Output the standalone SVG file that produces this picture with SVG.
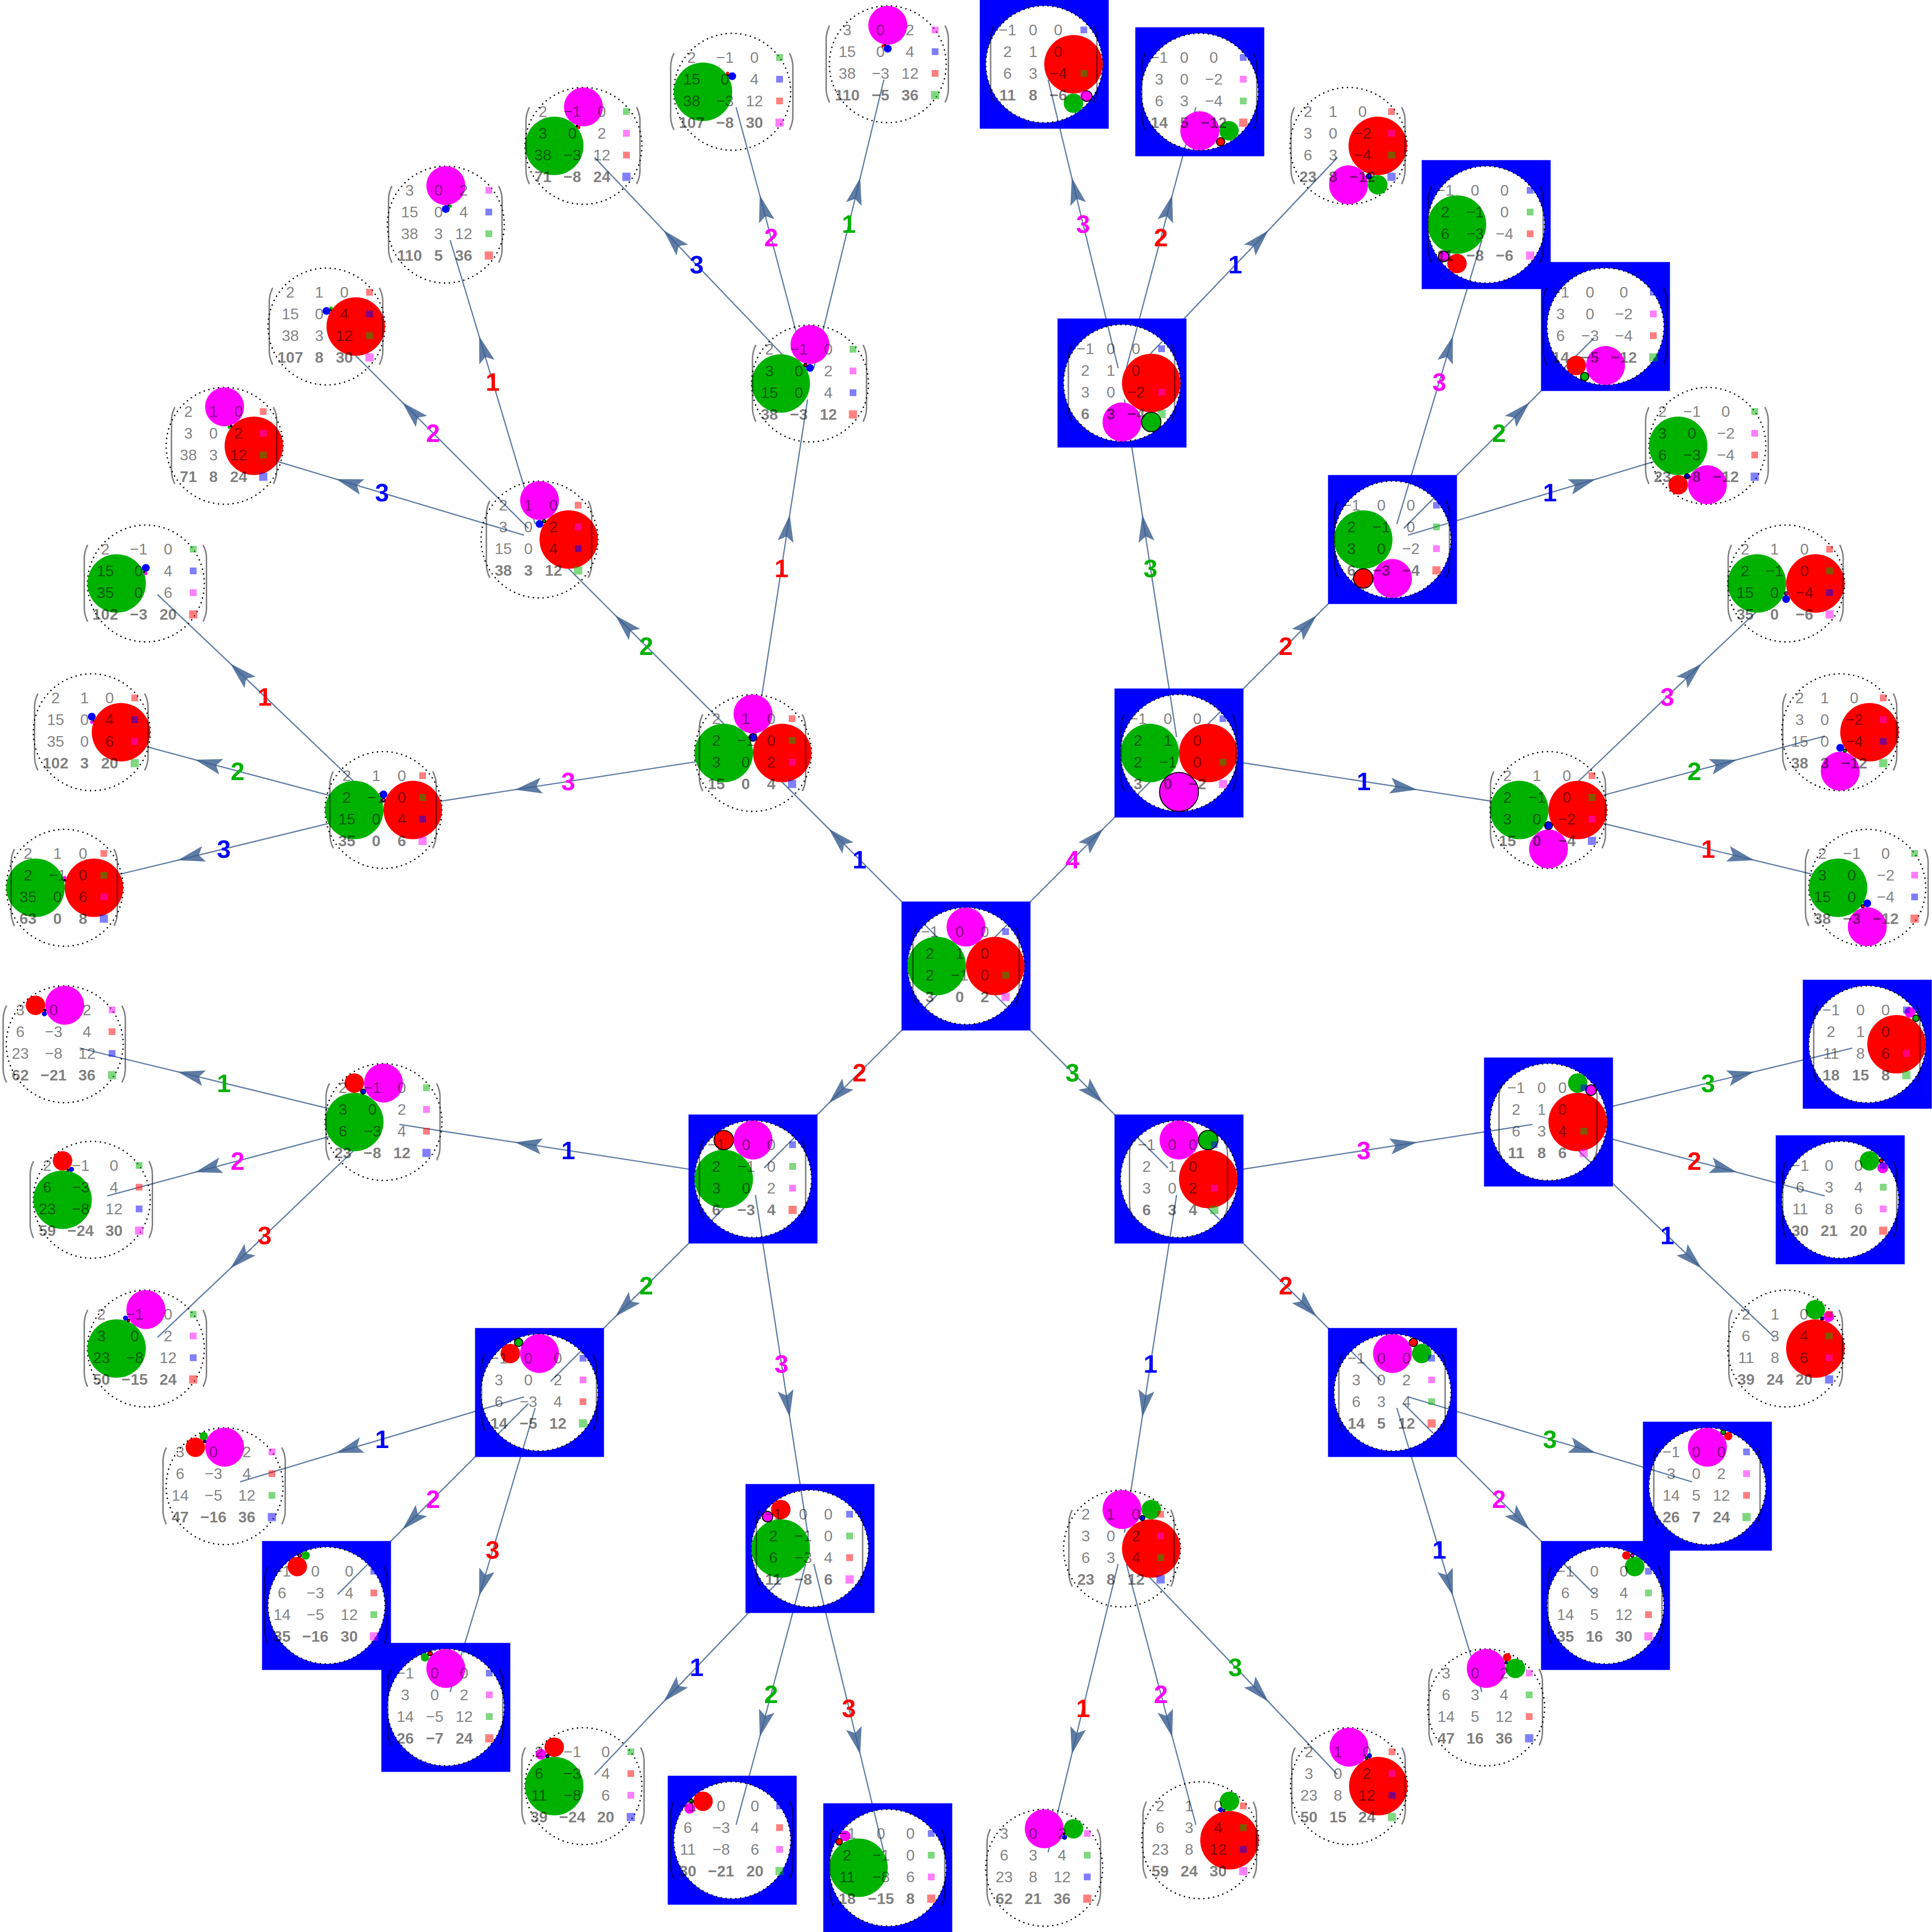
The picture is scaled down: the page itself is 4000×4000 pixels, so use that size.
<svg xmlns="http://www.w3.org/2000/svg" width="4000" height="4000" viewBox="0 0 4000 4000">
<style>
text{font-family:"Liberation Sans",Arial,sans-serif;font-size:32px;text-anchor:middle;fill:#000;fill-opacity:.5}
.b{font-weight:bold}
text.lab{font-size:52px;font-weight:bold;fill-opacity:1;dominant-baseline:central}
text.lr{fill:#f00}text.lg{fill:#00b200}text.lb{fill:#00f}text.lm{fill:#f0f}
.r{fill:#f00}.g{fill:#00b200}.u{fill:#00f}.m{fill:#f0f}
.k{stroke:#000;stroke-width:2}
.q{fill-opacity:.5}
.e{fill:none;stroke:#3a5f90;stroke-opacity:.82;stroke-width:2.6;marker-mid:url(#ah)}
.p{fill:none;stroke:#000;stroke-opacity:.5;stroke-width:3}
</style>
<defs>
<marker id="ah" markerUnits="userSpaceOnUse" orient="auto" markerWidth="60" markerHeight="36" viewBox="0 0 60 36" refX="56" refY="18"><path d="M56 18L0 1.500L11 18L0 34.500Z" fill="#3a5f90" fill-opacity=".82"/></marker>
<path id="ring" fill="#00f" fill-rule="evenodd" d="M-133.500-133.500H133.500V133.500H-133.500ZM-121 0A121 121 0 1 0 121 0A121 121 0 1 0-121 0Z"/>
<circle id="dots" r="121" fill="none" stroke="#000" stroke-width="3.200" stroke-linecap="round" stroke-dasharray="0 10.137"/>
<path id="pl" class="p" d="M7-80Q0-66 0-52V51Q0 65 7 79"/>
<path id="pr" class="p" d="M-7-80Q0-66 0-52V51Q0 65-7 79"/>
<rect id="sr" class="r q" x="-7" y="-7" width="14" height="14"/>
<rect id="sg" class="g q" x="-7" y="-7" width="14" height="14"/>
<rect id="sb" class="u q" x="-7" y="-7" width="14" height="14"/>
<rect id="sm" class="m q" x="-7" y="-7" width="14" height="14"/>
<rect id="Br" class="r q" x="-8.500" y="-8.500" width="17" height="17"/>
<rect id="Bg" class="g q" x="-8.500" y="-8.500" width="17" height="17"/>
<rect id="Bb" class="u q" x="-8.500" y="-8.500" width="17" height="17"/>
<rect id="Bm" class="m q" x="-8.500" y="-8.500" width="17" height="17"/>
<circle id="ca" class="r" cx="60.500" r="60.500"/>
<circle id="cd" class="g" cx="-60.500" r="60.500"/>
<circle id="cu" class="m" cy="-80.700" r="40.330"/>
<circle id="cv" class="m" cy="80.700" r="40.330"/>
<circle id="ce" class="u" cy="-32.300" r="8.070"/>
<circle id="cf" class="u" cy="32.300" r="8.070"/>
<circle id="g6" class="g" cx="60.500" cy="-80.700" r="20.170"/>
<circle id="g7" class="g" cx="60.500" cy="80.700" r="20.170"/>
<circle id="r6" class="r" cx="-60.500" cy="-80.700" r="20.170"/>
<circle id="r7" class="r" cx="-60.500" cy="80.700" r="20.170"/>
<circle id="m8" class="m" cx="88" cy="-66" r="11"/>
<circle id="m9" class="m" cx="-88" cy="-66" r="11"/>
</defs>
<rect width="4000" height="4000" fill="#fff"/>
<g id="connectors" transform="translate(2000 2000)">
<path class="e" d="M-23-23L-284-284L-418-418"/>
<path class="e" d="M-436-474L-365-934L-328-1173"/>
<path class="e" d="M-464-464L-726-726L-860-860"/>
<path class="e" d="M-474-436L-934-365L-1173-328"/>
<path class="e" d="M-315-1238L-219-1632L-170-1835"/>
<path class="e" d="M-332-1238L-427-1596L-476-1778"/>
<path class="e" d="M-346-1230L-626-1523L-769-1674"/>
<path class="e" d="M-892-915L-1008-1304L-1068-1503"/>
<path class="e" d="M-906-906L-1167-1167L-1301-1301"/>
<path class="e" d="M-915-892L-1304-1008L-1503-1068"/>
<path class="e" d="M-1230-346L-1523-626L-1674-769"/>
<path class="e" d="M-1238-332L-1596-427L-1778-476"/>
<path class="e" d="M-1238-315L-1632-219L-1835-170"/>
<path class="e" d="M23-23L284-284L418-418"/>
<path class="e" d="M436-474L365-934L328-1173"/>
<path class="e" d="M464-464L726-726L860-860"/>
<path class="e" d="M474-436L934-365L1173-328"/>
<path class="e" d="M315-1238L219-1632L170-1835"/>
<path class="e" d="M332-1238L427-1596L476-1778"/>
<path class="e" d="M346-1230L626-1523L769-1674"/>
<path class="e" d="M892-915L1008-1304L1068-1503"/>
<path class="e" d="M906-906L1167-1167L1301-1301"/>
<path class="e" d="M915-892L1304-1008L1503-1068"/>
<path class="e" d="M1230-346L1523-626L1674-769"/>
<path class="e" d="M1238-332L1596-427L1778-476"/>
<path class="e" d="M1238-315L1632-219L1835-170"/>
<path class="e" d="M23 23L284 284L418 418"/>
<path class="e" d="M436 474L365 934L328 1173"/>
<path class="e" d="M464 464L726 726L860 860"/>
<path class="e" d="M474 436L934 365L1173 328"/>
<path class="e" d="M315 1238L219 1632L170 1835"/>
<path class="e" d="M332 1238L427 1596L476 1778"/>
<path class="e" d="M346 1230L626 1523L769 1674"/>
<path class="e" d="M892 915L1008 1304L1068 1503"/>
<path class="e" d="M906 906L1167 1167L1301 1301"/>
<path class="e" d="M915 892L1304 1008L1503 1068"/>
<path class="e" d="M1230 346L1523 626L1674 769"/>
<path class="e" d="M1238 332L1596 427L1778 476"/>
<path class="e" d="M1238 315L1632 219L1835 170"/>
<path class="e" d="M-23 23L-284 284L-418 418"/>
<path class="e" d="M-436 474L-365 934L-328 1173"/>
<path class="e" d="M-464 464L-726 726L-860 860"/>
<path class="e" d="M-474 436L-934 365L-1173 328"/>
<path class="e" d="M-315 1238L-219 1632L-170 1835"/>
<path class="e" d="M-332 1238L-427 1596L-476 1778"/>
<path class="e" d="M-346 1230L-626 1523L-769 1674"/>
<path class="e" d="M-892 915L-1008 1304L-1068 1503"/>
<path class="e" d="M-906 906L-1167 1167L-1301 1301"/>
<path class="e" d="M-915 892L-1304 1008L-1503 1068"/>
<path class="e" d="M-1230 346L-1523 626L-1674 769"/>
<path class="e" d="M-1238 332L-1596 427L-1778 476"/>
<path class="e" d="M-1238 315L-1632 219L-1835 170"/>
<text class="lab lb" x="-220.500" y="-220.500">1</text>
<text class="lab lr" x="-382" y="-823.500">1</text>
<text class="lab lg" x="-662" y="-662">2</text>
<text class="lab lm" x="-823.500" y="-382">3</text>
<text class="lab lg" x="-242.500" y="-1536.500">1</text>
<text class="lab lm" x="-403.500" y="-1508">2</text>
<text class="lab lb" x="-557.500" y="-1452">3</text>
<text class="lab lr" x="-980" y="-1209">1</text>
<text class="lab lm" x="-1103.500" y="-1103.500">2</text>
<text class="lab lb" x="-1209" y="-980">3</text>
<text class="lab lr" x="-1452" y="-557.500">1</text>
<text class="lab lg" x="-1508" y="-403.500">2</text>
<text class="lab lb" x="-1536.500" y="-242.500">3</text>
<text class="lab lm" x="220.500" y="-220.500">4</text>
<text class="lab lg" x="382" y="-823.500">3</text>
<text class="lab lr" x="662" y="-662">2</text>
<text class="lab lb" x="823.500" y="-382">1</text>
<text class="lab lm" x="242.500" y="-1536.500">3</text>
<text class="lab lr" x="403.500" y="-1508">2</text>
<text class="lab lb" x="557.500" y="-1452">1</text>
<text class="lab lm" x="980" y="-1209">3</text>
<text class="lab lg" x="1103.500" y="-1103.500">2</text>
<text class="lab lb" x="1209" y="-980">1</text>
<text class="lab lm" x="1452" y="-557.500">3</text>
<text class="lab lg" x="1508" y="-403.500">2</text>
<text class="lab lr" x="1536.500" y="-242.500">1</text>
<text class="lab lg" x="220.500" y="220.500">3</text>
<text class="lab lb" x="382" y="823.500">1</text>
<text class="lab lr" x="662" y="662">2</text>
<text class="lab lm" x="823.500" y="382">3</text>
<text class="lab lr" x="242.500" y="1536.500">1</text>
<text class="lab lm" x="403.500" y="1508">2</text>
<text class="lab lg" x="557.500" y="1452">3</text>
<text class="lab lb" x="980" y="1209">1</text>
<text class="lab lm" x="1103.500" y="1103.500">2</text>
<text class="lab lg" x="1209" y="980">3</text>
<text class="lab lb" x="1452" y="557.500">1</text>
<text class="lab lr" x="1508" y="403.500">2</text>
<text class="lab lg" x="1536.500" y="242.500">3</text>
<text class="lab lr" x="-220.500" y="220.500">2</text>
<text class="lab lm" x="-382" y="823.500">3</text>
<text class="lab lg" x="-662" y="662">2</text>
<text class="lab lb" x="-823.500" y="382">1</text>
<text class="lab lr" x="-242.500" y="1536.500">3</text>
<text class="lab lg" x="-403.500" y="1508">2</text>
<text class="lab lb" x="-557.500" y="1452">1</text>
<text class="lab lr" x="-980" y="1209">3</text>
<text class="lab lm" x="-1103.500" y="1103.500">2</text>
<text class="lab lb" x="-1209" y="980">1</text>
<text class="lab lr" x="-1452" y="557.500">3</text>
<text class="lab lm" x="-1508" y="403.500">2</text>
<text class="lab lg" x="-1536.500" y="242.500">1</text>
</g>
<g id="n0" transform="translate(2000 2000)"><use href="#ring"/><use href="#dots"/><use href="#ca"/><use href="#cd"/><use href="#cu"/>
<text y="-60"><tspan x="-75">−1</tspan><tspan x="-13">0</tspan><tspan x="39">0</tspan></text><text y="-15"><tspan x="-75">2</tspan><tspan x="-13">1</tspan><tspan x="39">0</tspan></text><text y="30"><tspan x="-75">2</tspan><tspan x="-13">−1</tspan><tspan x="39">0</tspan></text><text class="b" y="75"><tspan x="-75">3</tspan><tspan x="-13">0</tspan><tspan x="39">2</tspan></text>
<use href="#pl" x="-110"/><use href="#pr" x="110"/><use href="#sb" x="82" y="-71"/><use href="#sr" x="82" y="-26"/><use href="#sg" x="82" y="19"/><use href="#Bm" x="82" y="64"/></g>
<g id="nA" transform="translate(1559 1559)"><use href="#dots"/><use href="#ca"/><use href="#cd"/><use href="#cu"/><circle class="u k" cy="-32.300" r="8.070"/>
<text y="-60"><tspan x="-76">2</tspan><tspan x="-15">1</tspan><tspan x="38">0</tspan></text><text y="-15"><tspan x="-76">2</tspan><tspan x="-15">−1</tspan><tspan x="38">0</tspan></text><text y="30"><tspan x="-76">3</tspan><tspan x="-15">0</tspan><tspan x="38">2</tspan></text><text class="b" y="75"><tspan x="-76">15</tspan><tspan x="-15">0</tspan><tspan x="38">4</tspan></text>
<use href="#pl" x="-111"/><use href="#pr" x="109"/><use href="#sr" x="81" y="-71"/><use href="#sg" x="81" y="-26"/><use href="#sm" x="81" y="19"/><use href="#Bb" x="81" y="64"/></g>
<g id="nA1" transform="translate(1677 794)"><use href="#dots"/><use href="#cd"/><use href="#cu"/><use href="#ce"/><circle class="r k" cx="-9.550" cy="-38.200" r="3.180"/>
<text y="-60"><tspan x="-84">2</tspan><tspan x="-23">−1</tspan><tspan x="38">0</tspan></text><text y="-15"><tspan x="-84">3</tspan><tspan x="-23">0</tspan><tspan x="38">2</tspan></text><text y="30"><tspan x="-84">15</tspan><tspan x="-23">0</tspan><tspan x="38">4</tspan></text><text class="b" y="75"><tspan x="-84">38</tspan><tspan x="-23">−3</tspan><tspan x="38">12</tspan></text>
<use href="#pl" x="-119"/><use href="#pr" x="117"/><use href="#sg" x="89" y="-71"/><use href="#sm" x="89" y="-26"/><use href="#sb" x="89" y="19"/><use href="#Br" x="89" y="64"/></g>
<g id="nA2" transform="translate(1117 1117)"><use href="#dots"/><use href="#ca"/><use href="#cu"/><use href="#ce"/><circle class="g k" cx="9.550" cy="-38.200" r="3.180"/>
<text y="-60"><tspan x="-75">2</tspan><tspan x="-23">1</tspan><tspan x="29">0</tspan></text><text y="-15"><tspan x="-75">3</tspan><tspan x="-23">0</tspan><tspan x="29">2</tspan></text><text y="30"><tspan x="-75">15</tspan><tspan x="-23">0</tspan><tspan x="29">4</tspan></text><text class="b" y="75"><tspan x="-75">38</tspan><tspan x="-23">3</tspan><tspan x="29">12</tspan></text>
<use href="#pl" x="-110"/><use href="#pr" x="108"/><use href="#sr" x="80" y="-71"/><use href="#sm" x="80" y="-26"/><use href="#sb" x="80" y="19"/><use href="#Bg" x="80" y="64"/></g>
<g id="nA3" transform="translate(794 1677)"><use href="#dots"/><use href="#ca"/><use href="#cd"/><use href="#ce"/><circle class="m k" cy="-20.740" r="3.460"/>
<text y="-60"><tspan x="-76">2</tspan><tspan x="-15">1</tspan><tspan x="38">0</tspan></text><text y="-15"><tspan x="-76">2</tspan><tspan x="-15">−1</tspan><tspan x="38">0</tspan></text><text y="30"><tspan x="-76">15</tspan><tspan x="-15">0</tspan><tspan x="38">4</tspan></text><text class="b" y="75"><tspan x="-76">35</tspan><tspan x="-15">0</tspan><tspan x="38">6</tspan></text>
<use href="#pl" x="-111"/><use href="#pr" x="109"/><use href="#sr" x="81" y="-71"/><use href="#sg" x="81" y="-26"/><use href="#sb" x="81" y="19"/><use href="#Bm" x="81" y="64"/></g>
<g id="nA11" transform="translate(1838 133)"><use href="#dots"/><use href="#cu"/><use href="#ce"/><circle class="r" cx="-9.550" cy="-38.200" r="3.180"/><circle class="g k" cx="-5.500" cy="-39.600" r="1.100"/>
<text y="-60"><tspan x="-84">3</tspan><tspan x="-15">0</tspan><tspan x="46">2</tspan></text><text y="-15"><tspan x="-84">15</tspan><tspan x="-15">0</tspan><tspan x="46">4</tspan></text><text y="30"><tspan x="-84">38</tspan><tspan x="-15">−3</tspan><tspan x="46">12</tspan></text><text class="b" y="75"><tspan x="-84">110</tspan><tspan x="-15">−5</tspan><tspan x="46">36</tspan></text>
<use href="#pl" x="-127.500"/><use href="#pr" x="125.500"/><use href="#sm" x="98" y="-71"/><use href="#sb" x="98" y="-26"/><use href="#sr" x="98" y="19"/><use href="#Bg" x="98" y="64"/></g>
<g id="nA12" transform="translate(1516 190)"><use href="#dots"/><use href="#cd"/><use href="#ce"/><circle class="r" cx="-9.550" cy="-38.200" r="3.180"/><circle class="m k" cx="-9.050" cy="-33.900" r="1.130"/>
<text y="-60"><tspan x="-84">2</tspan><tspan x="-15">−1</tspan><tspan x="46">0</tspan></text><text y="-15"><tspan x="-84">15</tspan><tspan x="-15">0</tspan><tspan x="46">4</tspan></text><text y="30"><tspan x="-84">38</tspan><tspan x="-15">−3</tspan><tspan x="46">12</tspan></text><text class="b" y="75"><tspan x="-84">107</tspan><tspan x="-15">−8</tspan><tspan x="46">30</tspan></text>
<use href="#pl" x="-127.500"/><use href="#pr" x="125.500"/><use href="#sg" x="98" y="-71"/><use href="#sb" x="98" y="-26"/><use href="#sr" x="98" y="19"/><use href="#Bm" x="98" y="64"/></g>
<g id="nA13" transform="translate(1208 302)"><use href="#dots"/><use href="#cd"/><use href="#cu"/><circle class="r" cx="-9.550" cy="-38.200" r="3.180"/><circle class="u k" cx="-13.600" cy="-40.900" r="1.700"/>
<text y="-60"><tspan x="-84">2</tspan><tspan x="-23">−1</tspan><tspan x="38">0</tspan></text><text y="-15"><tspan x="-84">3</tspan><tspan x="-23">0</tspan><tspan x="38">2</tspan></text><text y="30"><tspan x="-84">38</tspan><tspan x="-23">−3</tspan><tspan x="38">12</tspan></text><text class="b" y="75"><tspan x="-84">71</tspan><tspan x="-23">−8</tspan><tspan x="38">24</tspan></text>
<use href="#pl" x="-119"/><use href="#pr" x="117"/><use href="#sg" x="89" y="-71"/><use href="#sm" x="89" y="-26"/><use href="#sr" x="89" y="19"/><use href="#Bb" x="89" y="64"/></g>
<g id="nA21" transform="translate(923 465)"><use href="#dots"/><use href="#cu"/><use href="#ce"/><circle class="g" cx="9.550" cy="-38.200" r="3.180"/><circle class="r k" cx="5.500" cy="-39.600" r="1.100"/>
<text y="-60"><tspan x="-75">3</tspan><tspan x="-15">0</tspan><tspan x="37">2</tspan></text><text y="-15"><tspan x="-75">15</tspan><tspan x="-15">0</tspan><tspan x="37">4</tspan></text><text y="30"><tspan x="-75">38</tspan><tspan x="-15">3</tspan><tspan x="37">12</tspan></text><text class="b" y="75"><tspan x="-75">110</tspan><tspan x="-15">5</tspan><tspan x="37">36</tspan></text>
<use href="#pl" x="-118.500"/><use href="#pr" x="116.500"/><use href="#sm" x="89" y="-71"/><use href="#sb" x="89" y="-26"/><use href="#sg" x="89" y="19"/><use href="#Br" x="89" y="64"/></g>
<g id="nA22" transform="translate(676 676)"><use href="#dots"/><use href="#ca"/><use href="#ce"/><circle class="g" cx="9.550" cy="-38.200" r="3.180"/><circle class="m k" cx="9.050" cy="-33.900" r="1.130"/>
<text y="-60"><tspan x="-75">2</tspan><tspan x="-15">1</tspan><tspan x="37">0</tspan></text><text y="-15"><tspan x="-75">15</tspan><tspan x="-15">0</tspan><tspan x="37">4</tspan></text><text y="30"><tspan x="-75">38</tspan><tspan x="-15">3</tspan><tspan x="37">12</tspan></text><text class="b" y="75"><tspan x="-75">107</tspan><tspan x="-15">8</tspan><tspan x="37">30</tspan></text>
<use href="#pl" x="-118.500"/><use href="#pr" x="116.500"/><use href="#sr" x="89" y="-71"/><use href="#sb" x="89" y="-26"/><use href="#sg" x="89" y="19"/><use href="#Bm" x="89" y="64"/></g>
<g id="nA23" transform="translate(465 923)"><use href="#dots"/><use href="#ca"/><use href="#cu"/><circle class="g" cx="9.550" cy="-38.200" r="3.180"/><circle class="u k" cx="13.600" cy="-40.900" r="1.700"/>
<text y="-60"><tspan x="-75">2</tspan><tspan x="-23">1</tspan><tspan x="29">0</tspan></text><text y="-15"><tspan x="-75">3</tspan><tspan x="-23">0</tspan><tspan x="29">2</tspan></text><text y="30"><tspan x="-75">38</tspan><tspan x="-23">3</tspan><tspan x="29">12</tspan></text><text class="b" y="75"><tspan x="-75">71</tspan><tspan x="-23">8</tspan><tspan x="29">24</tspan></text>
<use href="#pl" x="-110"/><use href="#pr" x="108"/><use href="#sr" x="80" y="-71"/><use href="#sm" x="80" y="-26"/><use href="#sg" x="80" y="19"/><use href="#Bb" x="80" y="64"/></g>
<g id="nA31" transform="translate(302 1208)"><use href="#dots"/><use href="#cd"/><use href="#ce"/><circle class="m" cy="-20.740" r="3.460"/><circle class="r k" cx="-3.560" cy="-23.700" r="1.190"/>
<text y="-60"><tspan x="-84">2</tspan><tspan x="-15">−1</tspan><tspan x="46">0</tspan></text><text y="-15"><tspan x="-84">15</tspan><tspan x="-15">0</tspan><tspan x="46">4</tspan></text><text y="30"><tspan x="-84">35</tspan><tspan x="-15">0</tspan><tspan x="46">6</tspan></text><text class="b" y="75"><tspan x="-84">102</tspan><tspan x="-15">−3</tspan><tspan x="46">20</tspan></text>
<use href="#pl" x="-127.500"/><use href="#pr" x="125.500"/><use href="#sg" x="98" y="-71"/><use href="#sb" x="98" y="-26"/><use href="#sm" x="98" y="19"/><use href="#Br" x="98" y="64"/></g>
<g id="nA32" transform="translate(190 1516)"><use href="#dots"/><use href="#ca"/><use href="#ce"/><circle class="m" cy="-20.740" r="3.460"/><circle class="g k" cx="3.560" cy="-23.700" r="1.190"/>
<text y="-60"><tspan x="-75">2</tspan><tspan x="-15">1</tspan><tspan x="37">0</tspan></text><text y="-15"><tspan x="-75">15</tspan><tspan x="-15">0</tspan><tspan x="37">4</tspan></text><text y="30"><tspan x="-75">35</tspan><tspan x="-15">0</tspan><tspan x="37">6</tspan></text><text class="b" y="75"><tspan x="-75">102</tspan><tspan x="-15">3</tspan><tspan x="37">20</tspan></text>
<use href="#pl" x="-118.500"/><use href="#pr" x="116.500"/><use href="#sr" x="89" y="-71"/><use href="#sb" x="89" y="-26"/><use href="#sm" x="89" y="19"/><use href="#Bg" x="89" y="64"/></g>
<g id="nA33" transform="translate(134 1838)"><use href="#dots"/><use href="#ca"/><use href="#cd"/><circle class="m" cy="-20.740" r="3.460"/><circle class="u k" cy="-15.400" r="1.920"/>
<text y="-60"><tspan x="-76">2</tspan><tspan x="-15">1</tspan><tspan x="38">0</tspan></text><text y="-15"><tspan x="-76">2</tspan><tspan x="-15">−1</tspan><tspan x="38">0</tspan></text><text y="30"><tspan x="-76">35</tspan><tspan x="-15">0</tspan><tspan x="38">6</tspan></text><text class="b" y="75"><tspan x="-76">63</tspan><tspan x="-15">0</tspan><tspan x="38">8</tspan></text>
<use href="#pl" x="-111"/><use href="#pr" x="109"/><use href="#sr" x="81" y="-71"/><use href="#sg" x="81" y="-26"/><use href="#sm" x="81" y="19"/><use href="#Bb" x="81" y="64"/></g>
<g id="nD" transform="translate(2441 1559)"><use href="#ring"/><use href="#dots"/><use href="#ca"/><use href="#cd"/><circle class="m k" cy="80.700" r="40.330"/>
<text y="-60"><tspan x="-85">−1</tspan><tspan x="-23">0</tspan><tspan x="38">0</tspan></text><text y="-15"><tspan x="-85">2</tspan><tspan x="-23">1</tspan><tspan x="38">0</tspan></text><text y="30"><tspan x="-85">2</tspan><tspan x="-23">−1</tspan><tspan x="38">0</tspan></text><text class="b" y="75"><tspan x="-85">3</tspan><tspan x="-23">0</tspan><tspan x="38">−2</tspan></text>
<use href="#pl" x="-120"/><use href="#pr" x="118"/><use href="#sb" x="91" y="-71"/><use href="#sr" x="91" y="-26"/><use href="#sg" x="91" y="19"/><use href="#Bm" x="91" y="64"/></g>
<g id="nD3" transform="translate(2323 793)"><use href="#ring"/><use href="#dots"/><use href="#ca"/><use href="#cv"/><circle class="g k" cx="60.500" cy="80.700" r="20.170"/>
<text y="-60"><tspan x="-76">−1</tspan><tspan x="-23">0</tspan><tspan x="29">0</tspan></text><text y="-15"><tspan x="-76">2</tspan><tspan x="-23">1</tspan><tspan x="29">0</tspan></text><text y="30"><tspan x="-76">3</tspan><tspan x="-23">0</tspan><tspan x="29">−2</tspan></text><text class="b" y="75"><tspan x="-76">6</tspan><tspan x="-23">3</tspan><tspan x="29">−4</tspan></text>
<use href="#pl" x="-111"/><use href="#pr" x="109"/><use href="#sb" x="82" y="-71"/><use href="#sr" x="82" y="-26"/><use href="#sm" x="82" y="19"/><use href="#Bg" x="82" y="64"/></g>
<g id="nD2" transform="translate(2883 1117)"><use href="#ring"/><use href="#dots"/><use href="#cd"/><use href="#cv"/><circle class="r k" cx="-60.500" cy="80.700" r="20.170"/>
<text y="-60"><tspan x="-85">−1</tspan><tspan x="-23">0</tspan><tspan x="38">0</tspan></text><text y="-15"><tspan x="-85">2</tspan><tspan x="-23">−1</tspan><tspan x="38">0</tspan></text><text y="30"><tspan x="-85">3</tspan><tspan x="-23">0</tspan><tspan x="38">−2</tspan></text><text class="b" y="75"><tspan x="-85">6</tspan><tspan x="-23">−3</tspan><tspan x="38">−4</tspan></text>
<use href="#pl" x="-120"/><use href="#pr" x="118"/><use href="#sb" x="91" y="-71"/><use href="#sg" x="91" y="-26"/><use href="#sm" x="91" y="19"/><use href="#Br" x="91" y="64"/></g>
<g id="nD1" transform="translate(3206 1677)"><use href="#dots"/><use href="#ca"/><use href="#cd"/><use href="#cv"/><circle class="u k" cy="32.300" r="8.070"/>
<text y="-60"><tspan x="-85">2</tspan><tspan x="-24">1</tspan><tspan x="38">0</tspan></text><text y="-15"><tspan x="-85">2</tspan><tspan x="-24">−1</tspan><tspan x="38">0</tspan></text><text y="30"><tspan x="-85">3</tspan><tspan x="-24">0</tspan><tspan x="38">−2</tspan></text><text class="b" y="75"><tspan x="-85">15</tspan><tspan x="-24">0</tspan><tspan x="38">−4</tspan></text>
<use href="#pl" x="-120"/><use href="#pr" x="118"/><use href="#sr" x="90" y="-71"/><use href="#sg" x="90" y="-26"/><use href="#sm" x="90" y="19"/><use href="#Bb" x="90" y="64"/></g>
<g id="nD31" transform="translate(2162 133)"><use href="#ring"/><use href="#dots"/><use href="#ca"/><use href="#g7"/><circle class="m k" cx="88" cy="66" r="11"/>
<text y="-60"><tspan x="-76">−1</tspan><tspan x="-23">0</tspan><tspan x="29">0</tspan></text><text y="-15"><tspan x="-76">2</tspan><tspan x="-23">1</tspan><tspan x="29">0</tspan></text><text y="30"><tspan x="-76">6</tspan><tspan x="-23">3</tspan><tspan x="29">−4</tspan></text><text class="b" y="75"><tspan x="-76">11</tspan><tspan x="-23">8</tspan><tspan x="29">−6</tspan></text>
<use href="#pl" x="-111"/><use href="#pr" x="109"/><use href="#sb" x="82" y="-71"/><use href="#sr" x="82" y="-26"/><use href="#sg" x="82" y="19"/><use href="#Bm" x="82" y="64"/></g>
<g id="nD32" transform="translate(2484 190)"><use href="#ring"/><use href="#dots"/><use href="#cv"/><use href="#g7"/><circle class="r k" cx="43.200" cy="103.700" r="8.640"/>
<text y="-60"><tspan x="-84">−1</tspan><tspan x="-32">0</tspan><tspan x="29">0</tspan></text><text y="-15"><tspan x="-84">3</tspan><tspan x="-32">0</tspan><tspan x="29">−2</tspan></text><text y="30"><tspan x="-84">6</tspan><tspan x="-32">3</tspan><tspan x="29">−4</tspan></text><text class="b" y="75"><tspan x="-84">14</tspan><tspan x="-32">5</tspan><tspan x="29">−12</tspan></text>
<use href="#pl" x="-120"/><use href="#pr" x="118"/><use href="#sb" x="90" y="-71"/><use href="#sm" x="90" y="-26"/><use href="#sg" x="90" y="19"/><use href="#Br" x="90" y="64"/></g>
<g id="nD33" transform="translate(2792 302)"><use href="#dots"/><use href="#ca"/><use href="#cv"/><use href="#g7"/><circle class="u k" cx="42.100" cy="63.100" r="5.260"/>
<text y="-60"><tspan x="-84">2</tspan><tspan x="-32">1</tspan><tspan x="29">0</tspan></text><text y="-15"><tspan x="-84">3</tspan><tspan x="-32">0</tspan><tspan x="29">−2</tspan></text><text y="30"><tspan x="-84">6</tspan><tspan x="-32">3</tspan><tspan x="29">−4</tspan></text><text class="b" y="75"><tspan x="-84">23</tspan><tspan x="-32">8</tspan><tspan x="29">−12</tspan></text>
<use href="#pl" x="-119"/><use href="#pr" x="117"/><use href="#sr" x="89" y="-71"/><use href="#sm" x="89" y="-26"/><use href="#sg" x="89" y="19"/><use href="#Bb" x="89" y="64"/></g>
<g id="nD21" transform="translate(3077 465)"><use href="#ring"/><use href="#dots"/><use href="#cd"/><use href="#r7"/><circle class="m k" cx="-88" cy="66" r="11"/>
<text y="-60"><tspan x="-85">−1</tspan><tspan x="-23">0</tspan><tspan x="38">0</tspan></text><text y="-15"><tspan x="-85">2</tspan><tspan x="-23">−1</tspan><tspan x="38">0</tspan></text><text y="30"><tspan x="-85">6</tspan><tspan x="-23">−3</tspan><tspan x="38">−4</tspan></text><text class="b" y="75"><tspan x="-85">11</tspan><tspan x="-23">−8</tspan><tspan x="38">−6</tspan></text>
<use href="#pl" x="-120"/><use href="#pr" x="118"/><use href="#sb" x="91" y="-71"/><use href="#sg" x="91" y="-26"/><use href="#sr" x="91" y="19"/><use href="#Bm" x="91" y="64"/></g>
<g id="nD22" transform="translate(3324 676)"><use href="#ring"/><use href="#dots"/><use href="#cv"/><use href="#r7"/><circle class="g k" cx="-43.200" cy="103.700" r="8.640"/>
<text y="-60"><tspan x="-93">−1</tspan><tspan x="-32">0</tspan><tspan x="38">0</tspan></text><text y="-15"><tspan x="-93">3</tspan><tspan x="-32">0</tspan><tspan x="38">−2</tspan></text><text y="30"><tspan x="-93">6</tspan><tspan x="-32">−3</tspan><tspan x="38">−4</tspan></text><text class="b" y="75"><tspan x="-93">14</tspan><tspan x="-32">−5</tspan><tspan x="38">−12</tspan></text>
<use href="#pl" x="-129"/><use href="#pr" x="127"/><use href="#sb" x="99" y="-71"/><use href="#sm" x="99" y="-26"/><use href="#sr" x="99" y="19"/><use href="#Bg" x="99" y="64"/></g>
<g id="nD23" transform="translate(3535 923)"><use href="#dots"/><use href="#cd"/><use href="#cv"/><use href="#r7"/><circle class="u k" cx="-42.100" cy="63.100" r="5.260"/>
<text y="-60"><tspan x="-93">2</tspan><tspan x="-32">−1</tspan><tspan x="38">0</tspan></text><text y="-15"><tspan x="-93">3</tspan><tspan x="-32">0</tspan><tspan x="38">−2</tspan></text><text y="30"><tspan x="-93">6</tspan><tspan x="-32">−3</tspan><tspan x="38">−4</tspan></text><text class="b" y="75"><tspan x="-93">23</tspan><tspan x="-32">−8</tspan><tspan x="38">−12</tspan></text>
<use href="#pl" x="-128"/><use href="#pr" x="126"/><use href="#sg" x="98" y="-71"/><use href="#sm" x="98" y="-26"/><use href="#sr" x="98" y="19"/><use href="#Bb" x="98" y="64"/></g>
<g id="nD13" transform="translate(3698 1208)"><use href="#dots"/><use href="#ca"/><use href="#cd"/><use href="#cf"/><circle class="m k" cy="20.740" r="3.460"/>
<text y="-60"><tspan x="-85">2</tspan><tspan x="-24">1</tspan><tspan x="38">0</tspan></text><text y="-15"><tspan x="-85">2</tspan><tspan x="-24">−1</tspan><tspan x="38">0</tspan></text><text y="30"><tspan x="-85">15</tspan><tspan x="-24">0</tspan><tspan x="38">−4</tspan></text><text class="b" y="75"><tspan x="-85">35</tspan><tspan x="-24">0</tspan><tspan x="38">−6</tspan></text>
<use href="#pl" x="-120"/><use href="#pr" x="118"/><use href="#sr" x="90" y="-71"/><use href="#sg" x="90" y="-26"/><use href="#sb" x="90" y="19"/><use href="#Bm" x="90" y="64"/></g>
<g id="nD12" transform="translate(3810 1516)"><use href="#dots"/><use href="#ca"/><use href="#cv"/><use href="#cf"/><circle class="g k" cx="9.550" cy="38.200" r="3.180"/>
<text y="-60"><tspan x="-84">2</tspan><tspan x="-32">1</tspan><tspan x="29">0</tspan></text><text y="-15"><tspan x="-84">3</tspan><tspan x="-32">0</tspan><tspan x="29">−2</tspan></text><text y="30"><tspan x="-84">15</tspan><tspan x="-32">0</tspan><tspan x="29">−4</tspan></text><text class="b" y="75"><tspan x="-84">38</tspan><tspan x="-32">3</tspan><tspan x="29">−12</tspan></text>
<use href="#pl" x="-119"/><use href="#pr" x="117"/><use href="#sr" x="89" y="-71"/><use href="#sm" x="89" y="-26"/><use href="#sb" x="89" y="19"/><use href="#Bg" x="89" y="64"/></g>
<g id="nD11" transform="translate(3866 1838)"><use href="#dots"/><use href="#cd"/><use href="#cv"/><use href="#cf"/><circle class="r k" cx="-9.550" cy="38.200" r="3.180"/>
<text y="-60"><tspan x="-93">2</tspan><tspan x="-32">−1</tspan><tspan x="38">0</tspan></text><text y="-15"><tspan x="-93">3</tspan><tspan x="-32">0</tspan><tspan x="38">−2</tspan></text><text y="30"><tspan x="-93">15</tspan><tspan x="-32">0</tspan><tspan x="38">−4</tspan></text><text class="b" y="75"><tspan x="-93">38</tspan><tspan x="-32">−3</tspan><tspan x="38">−12</tspan></text>
<use href="#pl" x="-128"/><use href="#pr" x="126"/><use href="#sg" x="98" y="-71"/><use href="#sm" x="98" y="-26"/><use href="#sb" x="98" y="19"/><use href="#Br" x="98" y="64"/></g>
<g id="nC" transform="translate(2441 2441)"><use href="#ring"/><use href="#dots"/><use href="#ca"/><use href="#cu"/><circle class="g k" cx="60.500" cy="-80.700" r="20.170"/>
<text y="-60"><tspan x="-67">−1</tspan><tspan x="-14">0</tspan><tspan x="29">0</tspan></text><text y="-15"><tspan x="-67">2</tspan><tspan x="-14">1</tspan><tspan x="29">0</tspan></text><text y="30"><tspan x="-67">3</tspan><tspan x="-14">0</tspan><tspan x="29">2</tspan></text><text class="b" y="75"><tspan x="-67">6</tspan><tspan x="-14">3</tspan><tspan x="29">4</tspan></text>
<use href="#pl" x="-102.500"/><use href="#pr" x="100.500"/><use href="#sb" x="73" y="-71"/><use href="#sr" x="73" y="-26"/><use href="#sm" x="73" y="19"/><use href="#Bg" x="73" y="64"/></g>
<g id="nC1" transform="translate(2323 3206)"><use href="#dots"/><use href="#ca"/><use href="#cu"/><use href="#g6"/><circle class="u k" cx="42.100" cy="-63.100" r="5.260"/>
<text y="-60"><tspan x="-75">2</tspan><tspan x="-23">1</tspan><tspan x="29">0</tspan></text><text y="-15"><tspan x="-75">3</tspan><tspan x="-23">0</tspan><tspan x="29">2</tspan></text><text y="30"><tspan x="-75">6</tspan><tspan x="-23">3</tspan><tspan x="29">4</tspan></text><text class="b" y="75"><tspan x="-75">23</tspan><tspan x="-23">8</tspan><tspan x="29">12</tspan></text>
<use href="#pl" x="-110"/><use href="#pr" x="108"/><use href="#sr" x="80" y="-71"/><use href="#sm" x="80" y="-26"/><use href="#sg" x="80" y="19"/><use href="#Bb" x="80" y="64"/></g>
<g id="nC2" transform="translate(2883 2883)"><use href="#ring"/><use href="#dots"/><use href="#cu"/><use href="#g6"/><circle class="r k" cx="43.200" cy="-103.700" r="8.640"/>
<text y="-60"><tspan x="-75">−1</tspan><tspan x="-23">0</tspan><tspan x="29">0</tspan></text><text y="-15"><tspan x="-75">3</tspan><tspan x="-23">0</tspan><tspan x="29">2</tspan></text><text y="30"><tspan x="-75">6</tspan><tspan x="-23">3</tspan><tspan x="29">4</tspan></text><text class="b" y="75"><tspan x="-75">14</tspan><tspan x="-23">5</tspan><tspan x="29">12</tspan></text>
<use href="#pl" x="-111"/><use href="#pr" x="109"/><use href="#sb" x="81" y="-71"/><use href="#sm" x="81" y="-26"/><use href="#sg" x="81" y="19"/><use href="#Br" x="81" y="64"/></g>
<g id="nC3" transform="translate(3206 2323)"><use href="#ring"/><use href="#dots"/><use href="#ca"/><use href="#g6"/><circle class="m k" cx="88" cy="-66" r="11"/>
<text y="-60"><tspan x="-67">−1</tspan><tspan x="-14">0</tspan><tspan x="29">0</tspan></text><text y="-15"><tspan x="-67">2</tspan><tspan x="-14">1</tspan><tspan x="29">0</tspan></text><text y="30"><tspan x="-67">6</tspan><tspan x="-14">3</tspan><tspan x="29">4</tspan></text><text class="b" y="75"><tspan x="-67">11</tspan><tspan x="-14">8</tspan><tspan x="29">6</tspan></text>
<use href="#pl" x="-102.500"/><use href="#pr" x="100.500"/><use href="#sb" x="73" y="-71"/><use href="#sr" x="73" y="-26"/><use href="#sg" x="73" y="19"/><use href="#Bm" x="73" y="64"/></g>
<g id="nC11" transform="translate(2162 3867)"><use href="#dots"/><use href="#cu"/><use href="#g6"/><circle class="u" cx="42.100" cy="-63.100" r="5.260"/><circle class="r k" cx="41" cy="-70.300" r="1.950"/>
<text y="-60"><tspan x="-83">3</tspan><tspan x="-23">0</tspan><tspan x="37">2</tspan></text><text y="-15"><tspan x="-83">6</tspan><tspan x="-23">3</tspan><tspan x="37">4</tspan></text><text y="30"><tspan x="-83">23</tspan><tspan x="-23">8</tspan><tspan x="37">12</tspan></text><text class="b" y="75"><tspan x="-83">62</tspan><tspan x="-23">21</tspan><tspan x="37">36</tspan></text>
<use href="#pl" x="-118.500"/><use href="#pr" x="116.500"/><use href="#sm" x="89" y="-71"/><use href="#sg" x="89" y="-26"/><use href="#sb" x="89" y="19"/><use href="#Br" x="89" y="64"/></g>
<g id="nC12" transform="translate(2485 3810)"><use href="#dots"/><use href="#ca"/><use href="#g6"/><circle class="u" cx="42.100" cy="-63.100" r="5.260"/><circle class="m k" cx="49.200" cy="-61.500" r="2.050"/>
<text y="-60"><tspan x="-83">2</tspan><tspan x="-23">1</tspan><tspan x="37">0</tspan></text><text y="-15"><tspan x="-83">6</tspan><tspan x="-23">3</tspan><tspan x="37">4</tspan></text><text y="30"><tspan x="-83">23</tspan><tspan x="-23">8</tspan><tspan x="37">12</tspan></text><text class="b" y="75"><tspan x="-83">59</tspan><tspan x="-23">24</tspan><tspan x="37">30</tspan></text>
<use href="#pl" x="-118.500"/><use href="#pr" x="116.500"/><use href="#sr" x="89" y="-71"/><use href="#sg" x="89" y="-26"/><use href="#sb" x="89" y="19"/><use href="#Bm" x="89" y="64"/></g>
<g id="nC13" transform="translate(2793 3698)"><use href="#dots"/><use href="#ca"/><use href="#cu"/><circle class="u" cx="42.100" cy="-63.100" r="5.260"/><circle class="g k" cx="36.300" cy="-58.100" r="2.420"/>
<text y="-60"><tspan x="-83">2</tspan><tspan x="-23">1</tspan><tspan x="37">0</tspan></text><text y="-15"><tspan x="-83">3</tspan><tspan x="-23">0</tspan><tspan x="37">2</tspan></text><text y="30"><tspan x="-83">23</tspan><tspan x="-23">8</tspan><tspan x="37">12</tspan></text><text class="b" y="75"><tspan x="-83">50</tspan><tspan x="-23">15</tspan><tspan x="37">24</tspan></text>
<use href="#pl" x="-118.500"/><use href="#pr" x="116.500"/><use href="#sr" x="89" y="-71"/><use href="#sm" x="89" y="-26"/><use href="#sb" x="89" y="19"/><use href="#Bg" x="89" y="64"/></g>
<g id="nC21" transform="translate(3077 3535)"><use href="#dots"/><use href="#cu"/><use href="#g6"/><circle class="r" cx="43.200" cy="-103.700" r="8.640"/><circle class="u k" cx="41.200" cy="-92.700" r="2.570"/>
<text y="-60"><tspan x="-83">3</tspan><tspan x="-23">0</tspan><tspan x="37">2</tspan></text><text y="-15"><tspan x="-83">6</tspan><tspan x="-23">3</tspan><tspan x="37">4</tspan></text><text y="30"><tspan x="-83">14</tspan><tspan x="-23">5</tspan><tspan x="37">12</tspan></text><text class="b" y="75"><tspan x="-83">47</tspan><tspan x="-23">16</tspan><tspan x="37">36</tspan></text>
<use href="#pl" x="-118.500"/><use href="#pr" x="116.500"/><use href="#sm" x="89" y="-71"/><use href="#sg" x="89" y="-26"/><use href="#sr" x="89" y="19"/><use href="#Bb" x="89" y="64"/></g>
<g id="nC22" transform="translate(3324 3324)"><use href="#ring"/><use href="#dots"/><use href="#g6"/><circle class="r" cx="43.200" cy="-103.700" r="8.640"/><circle class="m k" cx="55.300" cy="-103.700" r="3.460"/>
<text y="-60"><tspan x="-83">−1</tspan><tspan x="-23">0</tspan><tspan x="38">0</tspan></text><text y="-15"><tspan x="-83">6</tspan><tspan x="-23">3</tspan><tspan x="38">4</tspan></text><text y="30"><tspan x="-83">14</tspan><tspan x="-23">5</tspan><tspan x="38">12</tspan></text><text class="b" y="75"><tspan x="-83">35</tspan><tspan x="-23">16</tspan><tspan x="38">30</tspan></text>
<use href="#pl" x="-119"/><use href="#pr" x="117"/><use href="#sb" x="89" y="-71"/><use href="#sg" x="89" y="-26"/><use href="#sr" x="89" y="19"/><use href="#Bm" x="89" y="64"/></g>
<g id="nC23" transform="translate(3535 3077)"><use href="#ring"/><use href="#dots"/><use href="#cu"/><circle class="r" cx="43.200" cy="-103.700" r="8.640"/><circle class="g k" cx="32.600" cy="-111.700" r="4.650"/>
<text y="-60"><tspan x="-75">−1</tspan><tspan x="-23">0</tspan><tspan x="29">0</tspan></text><text y="-15"><tspan x="-75">3</tspan><tspan x="-23">0</tspan><tspan x="29">2</tspan></text><text y="30"><tspan x="-75">14</tspan><tspan x="-23">5</tspan><tspan x="29">12</tspan></text><text class="b" y="75"><tspan x="-75">26</tspan><tspan x="-23">7</tspan><tspan x="29">24</tspan></text>
<use href="#pl" x="-111"/><use href="#pr" x="109"/><use href="#sb" x="81" y="-71"/><use href="#sm" x="81" y="-26"/><use href="#sr" x="81" y="19"/><use href="#Bg" x="81" y="64"/></g>
<g id="nC31" transform="translate(3698 2792)"><use href="#dots"/><use href="#ca"/><use href="#g6"/><use href="#m8"/><circle class="u k" cx="74.500" cy="-62.050" r="3.100"/>
<text y="-60"><tspan x="-83">2</tspan><tspan x="-23">1</tspan><tspan x="37">0</tspan></text><text y="-15"><tspan x="-83">6</tspan><tspan x="-23">3</tspan><tspan x="37">4</tspan></text><text y="30"><tspan x="-83">11</tspan><tspan x="-23">8</tspan><tspan x="37">6</tspan></text><text class="b" y="75"><tspan x="-83">39</tspan><tspan x="-23">24</tspan><tspan x="37">20</tspan></text>
<use href="#pl" x="-118.500"/><use href="#pr" x="116.500"/><use href="#sr" x="89" y="-71"/><use href="#sg" x="89" y="-26"/><use href="#sm" x="89" y="19"/><use href="#Bb" x="89" y="64"/></g>
<g id="nC32" transform="translate(3810 2484)"><use href="#ring"/><use href="#dots"/><use href="#g6"/><use href="#m8"/><circle class="r k" cx="84.700" cy="-80.700" r="4.030"/>
<text y="-60"><tspan x="-83">−1</tspan><tspan x="-23">0</tspan><tspan x="38">0</tspan></text><text y="-15"><tspan x="-83">6</tspan><tspan x="-23">3</tspan><tspan x="38">4</tspan></text><text y="30"><tspan x="-83">11</tspan><tspan x="-23">8</tspan><tspan x="38">6</tspan></text><text class="b" y="75"><tspan x="-83">30</tspan><tspan x="-23">21</tspan><tspan x="38">20</tspan></text>
<use href="#pl" x="-119"/><use href="#pr" x="117"/><use href="#sb" x="89" y="-71"/><use href="#sg" x="89" y="-26"/><use href="#sm" x="89" y="19"/><use href="#Br" x="89" y="64"/></g>
<g id="nC33" transform="translate(3866 2162)"><use href="#ring"/><use href="#dots"/><use href="#ca"/><use href="#m8"/><circle class="g k" cx="100.800" cy="-53.800" r="6.720"/>
<text y="-60"><tspan x="-75">−1</tspan><tspan x="-14">0</tspan><tspan x="38">0</tspan></text><text y="-15"><tspan x="-75">2</tspan><tspan x="-14">1</tspan><tspan x="38">0</tspan></text><text y="30"><tspan x="-75">11</tspan><tspan x="-14">8</tspan><tspan x="38">6</tspan></text><text class="b" y="75"><tspan x="-75">18</tspan><tspan x="-14">15</tspan><tspan x="38">8</tspan></text>
<use href="#pl" x="-111"/><use href="#pr" x="109"/><use href="#sb" x="81" y="-71"/><use href="#sr" x="81" y="-26"/><use href="#sm" x="81" y="19"/><use href="#Bg" x="81" y="64"/></g>
<g id="nB" transform="translate(1559 2441)"><use href="#ring"/><use href="#dots"/><use href="#cd"/><use href="#cu"/><circle class="r k" cx="-60.500" cy="-80.700" r="20.170"/>
<text y="-60"><tspan x="-76">−1</tspan><tspan x="-14">0</tspan><tspan x="38">0</tspan></text><text y="-15"><tspan x="-76">2</tspan><tspan x="-14">−1</tspan><tspan x="38">0</tspan></text><text y="30"><tspan x="-76">3</tspan><tspan x="-14">0</tspan><tspan x="38">2</tspan></text><text class="b" y="75"><tspan x="-76">6</tspan><tspan x="-14">−3</tspan><tspan x="38">4</tspan></text>
<use href="#pl" x="-111"/><use href="#pr" x="109"/><use href="#sb" x="82" y="-71"/><use href="#sg" x="82" y="-26"/><use href="#sm" x="82" y="19"/><use href="#Br" x="82" y="64"/></g>
<g id="nB3" transform="translate(1677 3206)"><use href="#ring"/><use href="#dots"/><use href="#cd"/><use href="#r6"/><circle class="m k" cx="-88" cy="-66" r="11"/>
<text y="-60"><tspan x="-76">−1</tspan><tspan x="-14">0</tspan><tspan x="38">0</tspan></text><text y="-15"><tspan x="-76">2</tspan><tspan x="-14">−1</tspan><tspan x="38">0</tspan></text><text y="30"><tspan x="-76">6</tspan><tspan x="-14">−3</tspan><tspan x="38">4</tspan></text><text class="b" y="75"><tspan x="-76">11</tspan><tspan x="-14">−8</tspan><tspan x="38">6</tspan></text>
<use href="#pl" x="-111"/><use href="#pr" x="109"/><use href="#sb" x="82" y="-71"/><use href="#sg" x="82" y="-26"/><use href="#sr" x="82" y="19"/><use href="#Bm" x="82" y="64"/></g>
<g id="nB2" transform="translate(1117 2883)"><use href="#ring"/><use href="#dots"/><use href="#cu"/><use href="#r6"/><circle class="g k" cx="-43.200" cy="-103.700" r="8.640"/>
<text y="-60"><tspan x="-84">−1</tspan><tspan x="-23">0</tspan><tspan x="38">0</tspan></text><text y="-15"><tspan x="-84">3</tspan><tspan x="-23">0</tspan><tspan x="38">2</tspan></text><text y="30"><tspan x="-84">6</tspan><tspan x="-23">−3</tspan><tspan x="38">4</tspan></text><text class="b" y="75"><tspan x="-84">14</tspan><tspan x="-23">−5</tspan><tspan x="38">12</tspan></text>
<use href="#pl" x="-120"/><use href="#pr" x="118"/><use href="#sb" x="90" y="-71"/><use href="#sm" x="90" y="-26"/><use href="#sr" x="90" y="19"/><use href="#Bg" x="90" y="64"/></g>
<g id="nB1" transform="translate(794 2323)"><use href="#dots"/><use href="#cd"/><use href="#cu"/><use href="#r6"/><circle class="u k" cx="-42.100" cy="-63.100" r="5.260"/>
<text y="-60"><tspan x="-84">2</tspan><tspan x="-23">−1</tspan><tspan x="38">0</tspan></text><text y="-15"><tspan x="-84">3</tspan><tspan x="-23">0</tspan><tspan x="38">2</tspan></text><text y="30"><tspan x="-84">6</tspan><tspan x="-23">−3</tspan><tspan x="38">4</tspan></text><text class="b" y="75"><tspan x="-84">23</tspan><tspan x="-23">−8</tspan><tspan x="38">12</tspan></text>
<use href="#pl" x="-119"/><use href="#pr" x="117"/><use href="#sg" x="89" y="-71"/><use href="#sm" x="89" y="-26"/><use href="#sr" x="89" y="19"/><use href="#Bb" x="89" y="64"/></g>
<g id="nB33" transform="translate(1838 3867)"><use href="#ring"/><use href="#dots"/><use href="#cd"/><use href="#m9"/><circle class="r k" cx="-100.800" cy="-53.800" r="6.720"/>
<text y="-60"><tspan x="-84">−1</tspan><tspan x="-14">0</tspan><tspan x="47">0</tspan></text><text y="-15"><tspan x="-84">2</tspan><tspan x="-14">−1</tspan><tspan x="47">0</tspan></text><text y="30"><tspan x="-84">11</tspan><tspan x="-14">−8</tspan><tspan x="47">6</tspan></text><text class="b" y="75"><tspan x="-84">18</tspan><tspan x="-14">−15</tspan><tspan x="47">8</tspan></text>
<use href="#pl" x="-120"/><use href="#pr" x="118"/><use href="#sb" x="90" y="-71"/><use href="#sg" x="90" y="-26"/><use href="#sm" x="90" y="19"/><use href="#Br" x="90" y="64"/></g>
<g id="nB32" transform="translate(1516 3810)"><use href="#ring"/><use href="#dots"/><use href="#r6"/><use href="#m9"/><circle class="g k" cx="-84.700" cy="-80.700" r="4.030"/>
<text y="-60"><tspan x="-92">−1</tspan><tspan x="-23">0</tspan><tspan x="47">0</tspan></text><text y="-15"><tspan x="-92">6</tspan><tspan x="-23">−3</tspan><tspan x="47">4</tspan></text><text y="30"><tspan x="-92">11</tspan><tspan x="-23">−8</tspan><tspan x="47">6</tspan></text><text class="b" y="75"><tspan x="-92">30</tspan><tspan x="-23">−21</tspan><tspan x="47">20</tspan></text>
<use href="#pl" x="-128"/><use href="#pr" x="126"/><use href="#sb" x="98" y="-71"/><use href="#sr" x="98" y="-26"/><use href="#sm" x="98" y="19"/><use href="#Bg" x="98" y="64"/></g>
<g id="nB31" transform="translate(1208 3698)"><use href="#dots"/><use href="#cd"/><use href="#r6"/><use href="#m9"/><circle class="u k" cx="-74.500" cy="-62.050" r="3.100"/>
<text y="-60"><tspan x="-92">2</tspan><tspan x="-23">−1</tspan><tspan x="46">0</tspan></text><text y="-15"><tspan x="-92">6</tspan><tspan x="-23">−3</tspan><tspan x="46">4</tspan></text><text y="30"><tspan x="-92">11</tspan><tspan x="-23">−8</tspan><tspan x="46">6</tspan></text><text class="b" y="75"><tspan x="-92">39</tspan><tspan x="-23">−24</tspan><tspan x="46">20</tspan></text>
<use href="#pl" x="-127.500"/><use href="#pr" x="125.500"/><use href="#sg" x="98" y="-71"/><use href="#sr" x="98" y="-26"/><use href="#sm" x="98" y="19"/><use href="#Bb" x="98" y="64"/></g>
<g id="nB23" transform="translate(923 3535)"><use href="#ring"/><use href="#dots"/><use href="#cu"/><circle class="g" cx="-43.200" cy="-103.700" r="8.640"/><circle class="r k" cx="-32.600" cy="-111.700" r="4.650"/>
<text y="-60"><tspan x="-84">−1</tspan><tspan x="-23">0</tspan><tspan x="38">0</tspan></text><text y="-15"><tspan x="-84">3</tspan><tspan x="-23">0</tspan><tspan x="38">2</tspan></text><text y="30"><tspan x="-84">14</tspan><tspan x="-23">−5</tspan><tspan x="38">12</tspan></text><text class="b" y="75"><tspan x="-84">26</tspan><tspan x="-23">−7</tspan><tspan x="38">24</tspan></text>
<use href="#pl" x="-120"/><use href="#pr" x="118"/><use href="#sb" x="90" y="-71"/><use href="#sm" x="90" y="-26"/><use href="#sg" x="90" y="19"/><use href="#Br" x="90" y="64"/></g>
<g id="nB22" transform="translate(676 3324)"><use href="#ring"/><use href="#dots"/><use href="#r6"/><circle class="g" cx="-43.200" cy="-103.700" r="8.640"/><circle class="m k" cx="-55.300" cy="-103.700" r="3.460"/>
<text y="-60"><tspan x="-92">−1</tspan><tspan x="-23">0</tspan><tspan x="47">0</tspan></text><text y="-15"><tspan x="-92">6</tspan><tspan x="-23">−3</tspan><tspan x="47">4</tspan></text><text y="30"><tspan x="-92">14</tspan><tspan x="-23">−5</tspan><tspan x="47">12</tspan></text><text class="b" y="75"><tspan x="-92">35</tspan><tspan x="-23">−16</tspan><tspan x="47">30</tspan></text>
<use href="#pl" x="-128"/><use href="#pr" x="126"/><use href="#sb" x="98" y="-71"/><use href="#sr" x="98" y="-26"/><use href="#sg" x="98" y="19"/><use href="#Bm" x="98" y="64"/></g>
<g id="nB21" transform="translate(465 3077)"><use href="#dots"/><use href="#cu"/><use href="#r6"/><circle class="g" cx="-43.200" cy="-103.700" r="8.640"/><circle class="u k" cx="-41.200" cy="-92.700" r="2.570"/>
<text y="-60"><tspan x="-92">3</tspan><tspan x="-23">0</tspan><tspan x="46">2</tspan></text><text y="-15"><tspan x="-92">6</tspan><tspan x="-23">−3</tspan><tspan x="46">4</tspan></text><text y="30"><tspan x="-92">14</tspan><tspan x="-23">−5</tspan><tspan x="46">12</tspan></text><text class="b" y="75"><tspan x="-92">47</tspan><tspan x="-23">−16</tspan><tspan x="46">36</tspan></text>
<use href="#pl" x="-127.500"/><use href="#pr" x="125.500"/><use href="#sm" x="98" y="-71"/><use href="#sr" x="98" y="-26"/><use href="#sg" x="98" y="19"/><use href="#Bb" x="98" y="64"/></g>
<g id="nB13" transform="translate(302 2792)"><use href="#dots"/><use href="#cd"/><use href="#cu"/><circle class="u" cx="-42.100" cy="-63.100" r="5.260"/><circle class="r k" cx="-36.300" cy="-58.100" r="2.420"/>
<text y="-60"><tspan x="-92">2</tspan><tspan x="-23">−1</tspan><tspan x="46">0</tspan></text><text y="-15"><tspan x="-92">3</tspan><tspan x="-23">0</tspan><tspan x="46">2</tspan></text><text y="30"><tspan x="-92">23</tspan><tspan x="-23">−8</tspan><tspan x="46">12</tspan></text><text class="b" y="75"><tspan x="-92">50</tspan><tspan x="-23">−15</tspan><tspan x="46">24</tspan></text>
<use href="#pl" x="-127.500"/><use href="#pr" x="125.500"/><use href="#sg" x="98" y="-71"/><use href="#sm" x="98" y="-26"/><use href="#sb" x="98" y="19"/><use href="#Br" x="98" y="64"/></g>
<g id="nB12" transform="translate(190 2484)"><use href="#dots"/><use href="#cd"/><use href="#r6"/><circle class="u" cx="-42.100" cy="-63.100" r="5.260"/><circle class="m k" cx="-49.200" cy="-61.500" r="2.050"/>
<text y="-60"><tspan x="-92">2</tspan><tspan x="-23">−1</tspan><tspan x="46">0</tspan></text><text y="-15"><tspan x="-92">6</tspan><tspan x="-23">−3</tspan><tspan x="46">4</tspan></text><text y="30"><tspan x="-92">23</tspan><tspan x="-23">−8</tspan><tspan x="46">12</tspan></text><text class="b" y="75"><tspan x="-92">59</tspan><tspan x="-23">−24</tspan><tspan x="46">30</tspan></text>
<use href="#pl" x="-127.500"/><use href="#pr" x="125.500"/><use href="#sg" x="98" y="-71"/><use href="#sr" x="98" y="-26"/><use href="#sb" x="98" y="19"/><use href="#Bm" x="98" y="64"/></g>
<g id="nB11" transform="translate(134 2162)"><use href="#dots"/><use href="#cu"/><use href="#r6"/><circle class="u" cx="-42.100" cy="-63.100" r="5.260"/><circle class="g k" cx="-41" cy="-70.300" r="1.950"/>
<text y="-60"><tspan x="-92">3</tspan><tspan x="-23">0</tspan><tspan x="46">2</tspan></text><text y="-15"><tspan x="-92">6</tspan><tspan x="-23">−3</tspan><tspan x="46">4</tspan></text><text y="30"><tspan x="-92">23</tspan><tspan x="-23">−8</tspan><tspan x="46">12</tspan></text><text class="b" y="75"><tspan x="-92">62</tspan><tspan x="-23">−21</tspan><tspan x="46">36</tspan></text>
<use href="#pl" x="-127.500"/><use href="#pr" x="125.500"/><use href="#sm" x="98" y="-71"/><use href="#sr" x="98" y="-26"/><use href="#sb" x="98" y="19"/><use href="#Bg" x="98" y="64"/></g>
</svg>
